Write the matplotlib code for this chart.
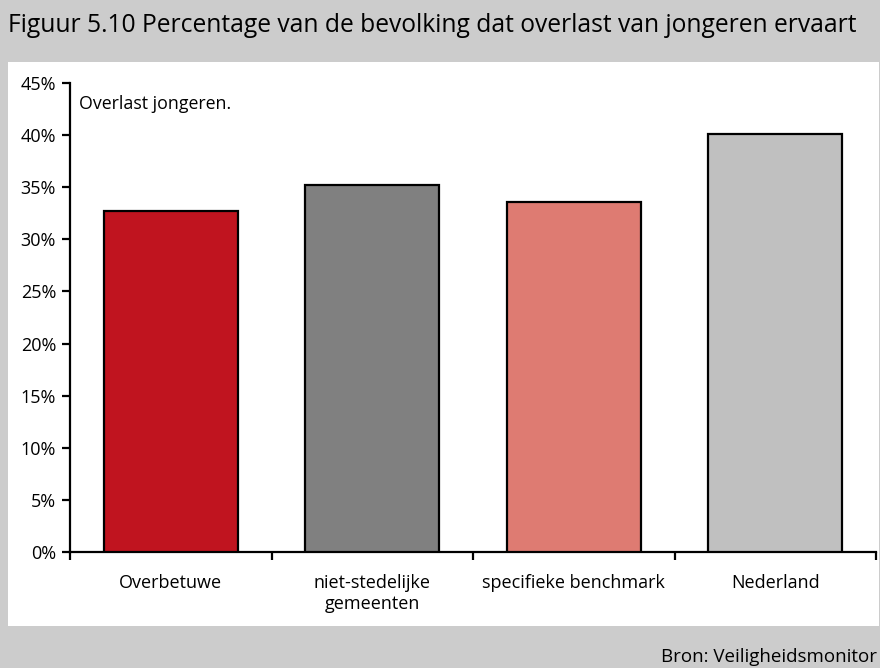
import matplotlib.pyplot as plt
from matplotlib.patches import Rectangle
from matplotlib.ticker import FuncFormatter

categories = ['Overbetuwe', 'niet-stedelijke\ngemeenten', 'specifieke benchmark', 'Nederland']
values = [32.7, 35.2, 33.6, 40.1]
colors = ['#C0141F', '#808080', '#DE7B72', '#C0C0C0']

plt.rcParams['font.family'] = ['Open Sans', 'DejaVu Sans']

W, H = 880, 668
fig = plt.figure(figsize=(W / 100, H / 100), dpi=100)
fig.patch.set_facecolor('#CCCCCC')

# white panel behind the chart
fig.patches.append(Rectangle((8 / W, 1 - 626 / H), (879 - 8) / W, (626 - 62) / H,
                             transform=fig.transFigure, facecolor='white',
                             edgecolor='none', zorder=-1))

ax = fig.add_axes([70 / W, 1 - 552 / H, (876 - 70) / W, (552 - 83) / H])
ax.set_zorder(2)
ax.set_facecolor('none')

x = range(len(categories))
ax.bar(x, values, width=0.665, color=colors, edgecolor='black', linewidth=1.6, zorder=3)

ax.set_xlim(-0.5, 3.5)
ax.set_ylim(0, 45)
ax.set_yticks(range(0, 46, 5))
ax.yaxis.set_major_formatter(FuncFormatter(lambda v, p: f'{int(v)}%'))
ax.set_xticks([i + 0.5 for i in range(-1, 4)], minor=False)
ax.set_xticklabels([])
ax.set_xticks(list(x), minor=True)
ax.set_xticklabels(categories, minor=True)
ax.tick_params(axis='x', which='minor', length=0, pad=16, labelsize=13)
ax.tick_params(axis='x', which='major', length=6, width=1.6, direction='out')
ax.tick_params(axis='y', length=6, width=1.6, direction='out', labelsize=13, pad=4)

for s in ['top', 'right']:
    ax.spines[s].set_visible(False)
for s in ['left', 'bottom']:
    ax.spines[s].set_linewidth(1.6)

ax.text(79 / W, 1 - 104 / H, 'Overlast jongeren.', transform=fig.transFigure,
        fontsize=12.8, va='center', ha='left')

fig.text(8 / W, 1 - 26 / H, 'Figuur 5.10 Percentage van de bevolking dat overlast van jongeren ervaart',
         fontsize=17.7, va='center', ha='left')
fig.text(877 / W, 1 - 662 / H, 'Bron: Veiligheidsmonitor', fontsize=13.5, va='baseline', ha='right')

fig.savefig('out.png', dpi=100, facecolor=fig.get_facecolor())
